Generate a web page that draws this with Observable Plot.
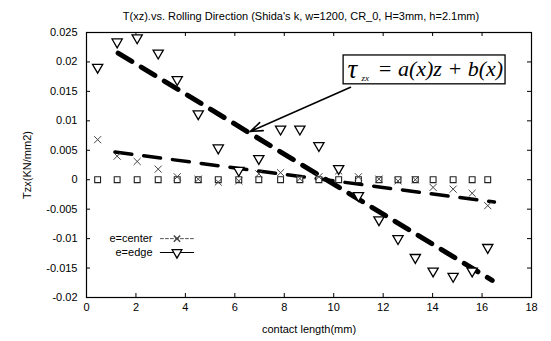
<!DOCTYPE html>
<html><head><meta charset="utf-8">
<script src="https://cdn.jsdelivr.net/npm/d3@7"></script>
<script src="https://cdn.jsdelivr.net/npm/@observablehq/plot@0.6"></script>
<style>body{margin:0;background:#fff;} svg{display:block;}</style>
</head><body><div id="chart"></div>
<script>
const titleText = "T(xz).vs. Rolling Direction (Shida's k, w=1200, CR_0, H=3mm, h=2.1mm)";
const xLabel = "contact length(mm)";
const yLabel = "Tzx(KN/mm2)";
const xTicks = [0, 2, 4, 6, 8, 10, 12, 14, 16, 18];
const yTicks = [-0.02, -0.015, -0.01, -0.005, 0, 0.005, 0.01, 0.015, 0.02, 0.025];

const xPos = [0.45, 1.24, 2.05, 2.9, 3.67, 4.52, 5.33, 6.16, 6.97, 7.85, 8.63, 9.4, 10.2, 11.0, 11.83, 12.6, 13.3, 14.02, 14.83, 15.6, 16.23];
const edgeVals = [0.0191, 0.0234, 0.0241, 0.0215, 0.017, 0.0112, 0.0054, 0.0016, 0.0036, 0.0086, 0.0086, 0.0058, 0.0019, -0.0027, -0.0068, -0.0100, -0.0132, -0.0155, -0.0164, -0.0155, -0.0115];
const centerVals = [0.0068, 0.0040, 0.0031, 0.0018, 0.0005, 0.0001, -0.0004, -0.0002, 0.0010, 0.0012, 0.0002, 0.0005, 0.0015, 0.0005, 0.0001, -0.0002, 0.0000, -0.0013, -0.0016, -0.0023, -0.0044];
const zeroVals = [0, 0, 0, 0, 0, 0, 0, 0, 0, 0, 0, 0, 0, 0, 0, 0, 0, 0, 0, 0, 0];

const edgeFitX = [1.28, 16.41];
const edgeFitY = [0.0215, -0.0171];
const centerFitX = [1.15, 16.5];
const centerFitY = [0.0047, -0.0038];

const legendLabels = ["e=center", "e=edge"];
const legendY = [-0.0100, -0.01236];
const legendTextX = 2.67;
const legendLineX = [2.99, 4.33];

const boxX = [10.4, 16.95];
const boxY = [0.0162, 0.0211];
const arrowFrom = [10.68, 0.0157];
const arrowTo = [6.63, 0.0082];

const edge = xPos.map((x, i) => ({x, y: edgeVals[i]}));
const center = xPos.map((x, i) => ({x, y: centerVals[i]}));
const zeros = xPos.map((x, i) => ({x, y: zeroVals[i]}));
const edgeFit = edgeFitX.map((x, i) => ({x, y: edgeFitY[i]}));
const centerFit = centerFitX.map((x, i) => ({x, y: centerFitY[i]}));
const legendRows = legendLabels.map((label, i) => ({label, y: legendY[i]}));
const legendLines = legendRows.flatMap(r => legendLineX.map(x => ({x, y: r.y, label: r.label})));
const legendMid = legendRows.map(r => ({x: (legendLineX[0] + legendLineX[1]) / 2, y: r.y, label: r.label}));
const boxMidY = (boxY[0] + boxY[1]) / 2;

const font = "Liberation Sans, Arial, sans-serif";
const serif = "Liberation Serif, Times New Roman, serif";
const fmt = d => String(+d.toFixed(3));
const W = 551, H = 341, ML = 86, MR = 20, MT = 32, MB = 44;
const fw = W - ML - MR, fh = H - MT - MB, tk = 4;

const chart = Plot.plot({
  width: W, height: H,
  marginLeft: ML, marginRight: MR, marginTop: MT, marginBottom: MB,
  style: {fontFamily: font, fontSize: "11px", background: "#fff", color: "#000"},
  x: {domain: [0, 18]},
  y: {domain: [-0.02, 0.025]},
  marks: [
    Plot.frame({stroke: "#000", strokeWidth: 1.2}),
    Plot.axisX({ticks: xTicks, tickSize: 0, tickPadding: 6, tickFormat: d => String(d), label: xLabel, labelAnchor: "center", labelArrow: "none", labelOffset: 35, fontSize: 11}),
    Plot.axisY({ticks: yTicks, tickSize: 0, tickPadding: 9, tickFormat: fmt, label: yLabel, labelAnchor: "center", labelArrow: "none", labelOffset: 63, fontSize: 11}),
    // inward ticks
    Plot.ruleX(xTicks, {x: d => d, insetTop: fh - tk, stroke: "#000"}),
    Plot.ruleX(xTicks, {x: d => d, insetBottom: fh - tk, stroke: "#000"}),
    Plot.ruleY(yTicks, {y: d => d, insetRight: fw - tk, stroke: "#000"}),
    Plot.ruleY(yTicks, {y: d => d, insetLeft: fw - tk, stroke: "#000"}),
    Plot.text([titleText], {frameAnchor: "top", dy: -20, dx: -8, text: d => d, fontSize: 11, fontFamily: font}),
    // fits
    Plot.line(edgeFit, {x: "x", y: "y", stroke: "#000", strokeWidth: 5, strokeDasharray: "16,11"}),
    Plot.line(centerFit, {x: "x", y: "y", stroke: "#000", strokeWidth: 3.5, strokeDasharray: "17,12"}),
    // data
    Plot.dot(zeros, {x: "x", y: "y", symbol: "square", r: 3.3, stroke: "#222", strokeWidth: 1.1, fill: "#fff"}),
    Plot.dot(center, {x: "x", y: "y", symbol: "times", r: 3.3, stroke: "#444", strokeWidth: 1}),
    Plot.dot(edge, {x: "x", y: "y", symbol: "triangle", rotate: 180, r: 3.8, stroke: "#000", strokeWidth: 1.3, fill: "#fff"}),
    // annotation
    Plot.rect([{x1: boxX[0], x2: boxX[1], y1: boxY[0], y2: boxY[1]}], {x1: "x1", x2: "x2", y1: "y1", y2: "y2", fill: "#fff", stroke: "#000", strokeWidth: 1.3}),
    Plot.text([{x: boxX[0], y: boxMidY}], {x: "x", y: "y", text: () => "τ", textAnchor: "start", dx: 4, dy: -1, fontSize: 27, fontStyle: "italic", fontFamily: serif}),
    Plot.text([{x: boxX[0], y: boxMidY}], {x: "x", y: "y", text: () => "zx", textAnchor: "start", dx: 18, dy: 8, fontSize: 9, fontStyle: "italic", fontFamily: serif}),
    Plot.text([{x: boxX[0], y: boxMidY}], {x: "x", y: "y", text: () => "= a(x)z + b(x)", textAnchor: "start", dx: 34, dy: -1, fontSize: 22, fontStyle: "italic", fontFamily: serif}),
    Plot.arrow([{x1: arrowFrom[0], y1: arrowFrom[1], x2: arrowTo[0], y2: arrowTo[1]}], {x1: "x1", y1: "y1", x2: "x2", y2: "y2", stroke: "#000", strokeWidth: 1.6, headLength: 12, headAngle: 40}),
    // legend
    Plot.text(legendRows, {x: () => legendTextX, y: "y", text: "label", textAnchor: "end", fontSize: 11, fontStyle: d => d.label === "e=edge" ? "italic" : "normal", fontFamily: font}),
    Plot.line(legendLines, {filter: d => d.label === "e=center", x: "x", y: "y", stroke: "#555", strokeWidth: 1, strokeDasharray: "3,2"}),
    Plot.line(legendLines, {filter: d => d.label === "e=edge", x: "x", y: "y", stroke: "#000", strokeWidth: 1.2}),
    Plot.dot(legendMid, {filter: d => d.label === "e=center", x: "x", y: "y", symbol: "times", r: 3, stroke: "#444"}),
    Plot.dot(legendMid, {filter: d => d.label === "e=edge", x: "x", y: "y", symbol: "triangle", rotate: 180, r: 3.6, stroke: "#000", strokeWidth: 1.3, fill: "#fff"})
  ]
});
document.getElementById("chart").appendChild(chart);
</script>
</body></html>
